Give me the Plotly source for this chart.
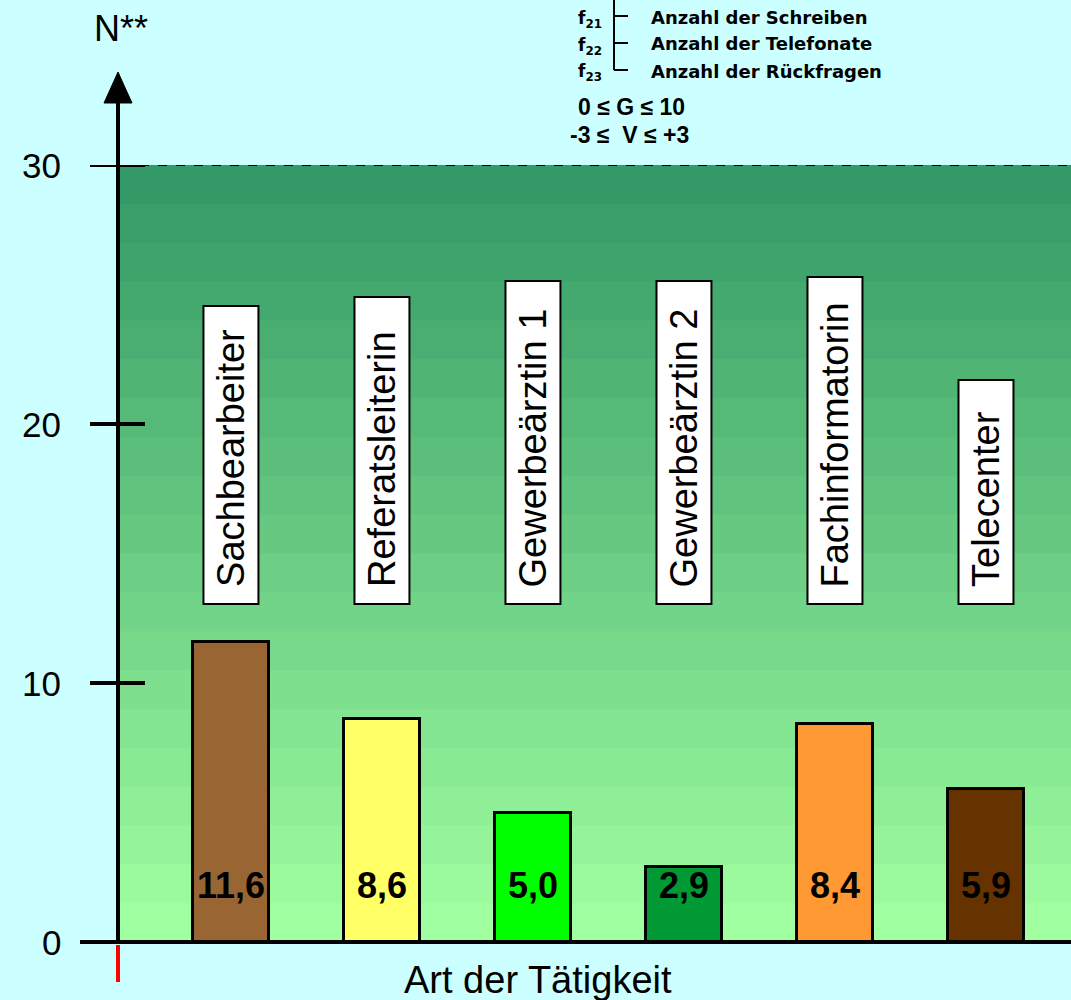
import plotly.graph_objects as go

# ---- data ----
categories = ["Sachbearbeiter", "Referatsleiterin", "Gewerbeärztin 1",
              "Gewerbeärztin 2", "Fachinformatorin", "Telecenter"]
values = [11.6, 8.6, 5.0, 2.9, 8.4, 5.9]
y_ticks = [0, 10, 20, 30]
legend_keys = ["f<sub>21</sub>", "f<sub>22</sub>", "f<sub>23</sub>"]
legend_texts = ["Anzahl der Schreiben", "Anzahl der Telefonate", "Anzahl der Rückfragen"]
range_notes = ["0 ≤ G ≤ 10", "-3 ≤  V ≤ +3"]

# ---- styling ----
bar_colors = ["#996633", "#ffff66", "#00ff00", "#009933", "#ff9933", "#663300"]
label_box_tops = [306, 297, 281, 281, 277, 380]   # pixel tops of the rotated name boxes
label_box_bottom = 604
page_bg = "#ccffff"
FONT = "Liberation Sans, Arial, sans-serif"
SMALL_FONT = "DejaVu Sans, sans-serif"

W, H = 1071, 1000
PL, PR, PT, PB = 118, 1071, 165, 942      # plot area in pixels
Y_MAX = 30
X_RANGE = [-0.748, 5.563]


def px_x(px):
    return (px - PL) / (PR - PL)


def px_y(py):
    return (PB - py) / (PB - PT)


fig = go.Figure()
fig.add_trace(go.Bar(
    x=list(range(len(categories))), y=values, width=0.5,
    customdata=categories,
    marker=dict(color=bar_colors, line=dict(color="black", width=3)),
    hovertemplate="%{customdata}: %{y}<extra></extra>",
))

shapes = []
# banded green background (light at the bottom, dark at the top);
# each band reaches to the top so the next one covers it without seams
n_bands = 20
c_bot = (160, 255, 160)
c_top = (51, 153, 102)
for i in range(n_bands):
    f = i / (n_bands - 1)
    col = tuple(round(c_bot[k] + (c_top[k] - c_bot[k]) * f) for k in range(3))
    shapes.append(dict(type="rect", xref="paper", yref="y", x0=0, x1=1,
                       y0=i * Y_MAX / n_bands, y1=Y_MAX,
                       fillcolor="rgb(%d,%d,%d)" % col, line=dict(width=0), layer="below"))

# dashed upper limit
shapes.append(dict(type="line", xref="paper", yref="y", x0=px_x(140), x1=1, y0=Y_MAX, y1=Y_MAX,
                   line=dict(color="black", width=2, dash="dash")))
# tick marks crossing the axis
for t in y_ticks[1:]:
    shapes.append(dict(type="line", xref="paper", yref="y", x0=px_x(90), x1=px_x(145), y0=t, y1=t,
                       line=dict(color="black", width=4)))
# x axis baseline
shapes.append(dict(type="line", xref="paper", yref="paper", x0=px_x(80), x1=1, y0=0, y1=0,
                   line=dict(color="black", width=4)))
# y axis with arrow head
shapes.append(dict(type="line", xref="paper", yref="paper", x0=0, x1=0, y0=0, y1=px_y(100),
                   line=dict(color="black", width=4)))
shapes.append(dict(type="path", xref="paper", yref="paper",
                   path="M %f,%f L %f,%f L %f,%f Z" % (px_x(118), px_y(72), px_x(104), px_y(103),
                                                      px_x(132), px_y(103)),
                   fillcolor="black", line=dict(color="black", width=1)))
# red marker below the origin
shapes.append(dict(type="line", xref="paper", yref="paper", x0=0, x1=0, y0=px_y(945), y1=px_y(982),
                   line=dict(color="#ff0000", width=4)))
# white boxes for the rotated category names
for i, top in enumerate(label_box_tops):
    shapes.append(dict(type="rect", xref="x", yref="paper", x0=i - 0.182, x1=i + 0.182,
                       y0=px_y(label_box_bottom), y1=px_y(top),
                       fillcolor="white", line=dict(color="black", width=2)))
# bracket beside the legend keys
shapes.append(dict(type="line", xref="paper", yref="paper", x0=px_x(614), x1=px_x(614),
                   y0=px_y(-5), y1=px_y(70), line=dict(color="black", width=2)))
for yy in (16, 43, 70):
    shapes.append(dict(type="line", xref="paper", yref="paper", x0=px_x(614), x1=px_x(628),
                       y0=px_y(yy), y1=px_y(yy), line=dict(color="black", width=2)))

annotations = []
for t in y_ticks:
    annotations.append(dict(text=str(t), xref="paper", yref="y", x=px_x(63), y=t,
                            xanchor="right", yanchor="middle", showarrow=False,
                            font=dict(family=FONT, size=35, color="black")))
annotations.append(dict(text="N**", xref="paper", yref="paper", x=px_x(121), y=px_y(28),
                        xanchor="center", yanchor="middle", showarrow=False,
                        font=dict(family=FONT, size=36, color="black")))
annotations.append(dict(text="Art der Tätigkeit", xref="paper", yref="paper", x=px_x(538), y=px_y(980),
                        xanchor="center", yanchor="middle", showarrow=False,
                        font=dict(family=FONT, size=38, color="black")))
for i, v in enumerate(values):
    annotations.append(dict(text="<b>%s</b>" % ("%.1f" % v).replace(".", ","), xref="x", yref="paper",
                            x=i, y=px_y(885), xanchor="center", yanchor="middle", showarrow=False,
                            font=dict(family=FONT, size=36, color="black")))
for i, name in enumerate(categories):
    annotations.append(dict(text=name, xref="x", yref="paper", x=i, y=px_y(589),
                            xanchor="center", yanchor="bottom", textangle=-90, showarrow=False,
                            font=dict(family=FONT, size=38, color="black")))
for k, (key, txt) in enumerate(zip(legend_keys, legend_texts)):
    yy = 17 + 27 * k
    annotations.append(dict(text="<b>%s</b>" % key, xref="paper", yref="paper", x=px_x(576), y=px_y(yy + 2),
                            xanchor="left", yanchor="middle", showarrow=False,
                            font=dict(family=SMALL_FONT, size=17, color="black")))
    annotations.append(dict(text="<b>%s</b>" % txt, xref="paper", yref="paper", x=px_x(649), y=px_y(yy),
                            xanchor="left", yanchor="middle", showarrow=False,
                            font=dict(family=SMALL_FONT, size=18, color="black")))
for k, note in enumerate(range_notes):
    annotations.append(dict(text="<b>%s</b>" % note, xref="paper", yref="paper",
                            x=px_x(576 - 8 * k), y=px_y(107 + 28 * k),
                            xanchor="left", yanchor="middle", showarrow=False,
                            font=dict(family=FONT, size=23, color="black")))

fig.update_layout(
    width=W, height=H,
    margin=dict(l=PL, r=W - PR, t=PT, b=H - PB, pad=0),
    paper_bgcolor=page_bg, plot_bgcolor=page_bg,
    showlegend=False,
    xaxis=dict(range=X_RANGE, visible=False, fixedrange=True),
    yaxis=dict(range=[0, Y_MAX], visible=False, fixedrange=True),
    shapes=shapes, annotations=annotations,
    bargap=0,
)

fig.write_html("out.html")
